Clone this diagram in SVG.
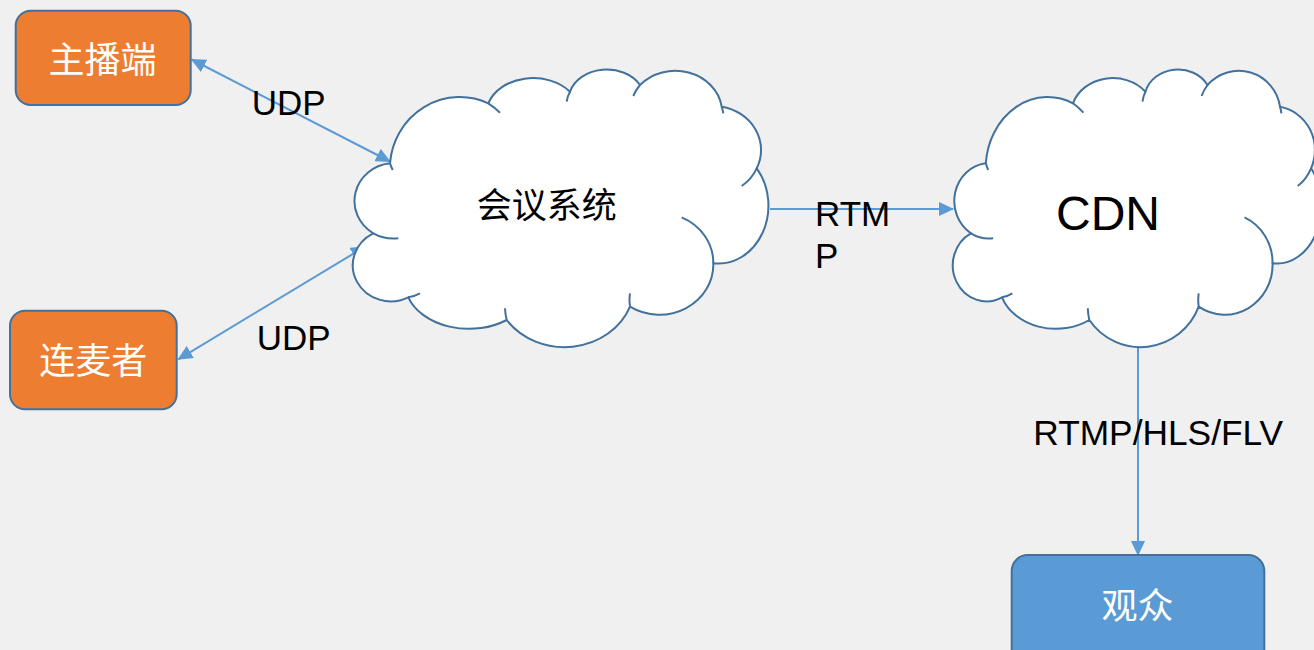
<svg xmlns="http://www.w3.org/2000/svg" width="1314" height="650" viewBox="0 0 1314 650">
<style>
.bg{fill:#F0F0F0}
.cloud{fill:#FFFFFF;stroke:#41719C;stroke-width:2;vector-effect:non-scaling-stroke}
.tick{fill:none;stroke:#41719C;stroke-width:2;vector-effect:non-scaling-stroke}
.box{stroke:#41719C;stroke-width:2}
.orange{fill:#ED7D31}
.blue{fill:#5B9BD5}
.conn{fill:none;stroke:#5B9BD5;stroke-width:2}
.wt{fill:#FFFFFF;font-family:"Liberation Sans","Noto Sans CJK SC",sans-serif;font-size:36px;text-anchor:middle}
.bt{fill:#000000;font-family:"Liberation Sans","Noto Sans CJK SC",sans-serif;font-size:35px}
</style>
<defs>
<marker id="ah" markerUnits="userSpaceOnUse" markerWidth="15" markerHeight="14" refX="14" refY="7" orient="auto-start-reverse">
<path d="M0,0 L15,7 L0,14 Z" fill="#5B9BD5"/>
</marker>
<g id="cloudShape">
<path class="cloud" d="M373.3 233.3 A40 38 0 0 1 390 163.3 A70 72 0 0 1 488.3 103.3 A47 36 0 0 1 570 91.7 A38 30 0 0 1 640 85 A47 42 0 0 1 721.7 106.7 A48 44 0 0 1 756.7 168.3 A50 58 0 0 1 713.3 263.3 A54 50 0 0 1 630 306.7 A70 62.3 0 0 1 506.7 320 A64 46 0 0 1 408.3 297.3 A38 36 0 0 1 373.3 233.3 Z"/>
<path class="tick" d="M390 163.3 A70 72 0 0 0 392.7 170 M488.3 103.3 A70 72 0 0 1 500 112.7 M570 91.7 A38 30 0 0 0 566.7 101.7 M640 85 A47 42 0 0 0 633.3 96 M721.7 106.7 A47 42 0 0 1 723.3 113.3 M756.7 168.3 A48 44 0 0 1 741.7 186 M713.3 263.3 A54 50 0 0 0 681.7 217.3 M630 306.7 A54 50 0 0 1 630 293.3 M506.7 320 A70 62.3 0 0 1 505 308.3 M408.3 297.3 A38 36 0 0 0 420 293.3 M373.3 233.3 A40 38 0 0 0 398.3 238.3"/>
</g>
</defs>
<rect class="bg" x="0" y="0" width="1314" height="650"/>
<g id="connectors">
<line class="conn" x1="191.7" y1="59.5" x2="390" y2="161.5" marker-start="url(#ah)" marker-end="url(#ah)"/>
<line class="conn" x1="365" y1="246.7" x2="178.3" y2="359.3" marker-start="url(#ah)" marker-end="url(#ah)"/>
<line class="conn" x1="770" y1="209" x2="953" y2="209" marker-end="url(#ah)"/>
<line class="conn" x1="1138" y1="347" x2="1138" y2="555" marker-end="url(#ah)"/>
</g>
<g id="node-meeting">
<use href="#cloudShape"/>
<text class="bt" x="546.7" y="217.5" text-anchor="middle">会议系统</text>
</g>
<g id="node-cdn">
<use href="#cloudShape" transform="translate(952.7,0) scale(0.887,1) translate(-352.7,0)"/>
<text class="bt" x="1108" y="230" text-anchor="middle" style="font-size:48px">CDN</text>
</g>
<g id="node-host">
<rect class="box orange" x="15.7" y="10.7" width="175" height="94.3" rx="15" ry="15"/>
<text class="wt" x="102.5" y="72.5">主播端</text>
</g>
<g id="node-guest">
<rect class="box orange" x="10" y="310.7" width="166.7" height="98.6" rx="15" ry="15"/>
<text class="wt" x="93.3" y="374">连麦者</text>
</g>
<g id="node-audience">
<rect class="box blue" x="1011.7" y="555" width="252.6" height="120" rx="16" ry="16"/>
<text class="wt" x="1137.5" y="619">观众</text>
</g>
<g id="labels">
<text class="bt" x="251.7" y="115">UDP</text>
<text class="bt" x="256.7" y="350">UDP</text>
<text class="bt" x="815" y="226">RTM</text>
<text class="bt" x="815" y="268">P</text>
<text class="bt" x="1033.3" y="445" style="font-size:35.3px">RTMP/HLS/FLV</text>
</g>
</svg>
